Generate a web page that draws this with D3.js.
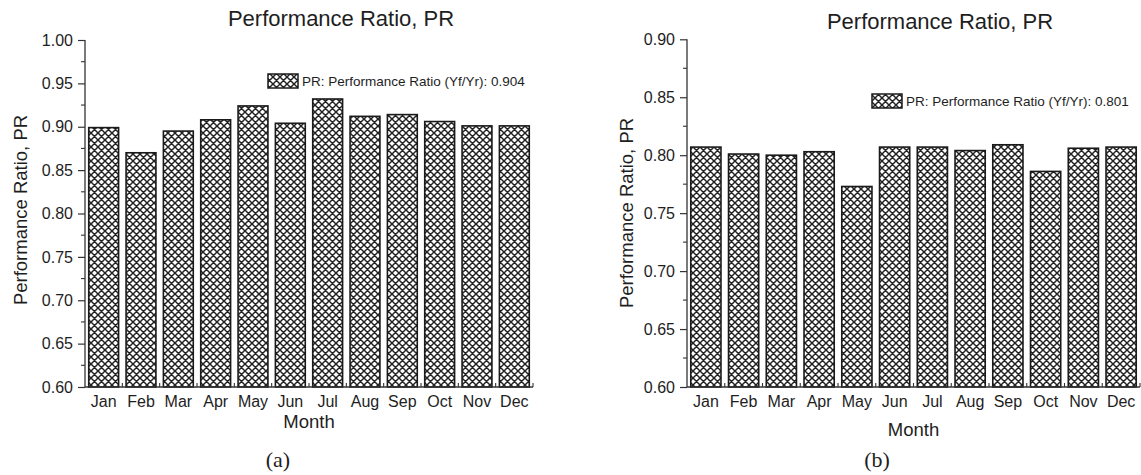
<!DOCTYPE html>
<html>
<head>
<meta charset="utf-8">
<script src="https://cdn.jsdelivr.net/npm/d3@7"></script>
<style>
  html, body { margin: 0; padding: 0; background: #fff; }
  svg { display: block; }
  text { font-family: "Liberation Sans", Arial, sans-serif; fill: #1e1e1e; }
</style>
</head>
<body>
<svg id="chart" width="1141" height="475"></svg>
<script>
const months = ["Jan","Feb","Mar","Apr","May","Jun","Jul","Aug","Sep","Oct","Nov","Dec"];
const prA = [0.899, 0.870, 0.895, 0.908, 0.924, 0.904, 0.932, 0.912, 0.914, 0.906, 0.901, 0.901];
const prB = [0.807, 0.801, 0.800, 0.803, 0.773, 0.807, 0.807, 0.804, 0.809, 0.786, 0.806, 0.807];
const yTicksA = [0.60, 0.65, 0.70, 0.75, 0.80, 0.85, 0.90, 0.95, 1.00];
const yTicksB = [0.60, 0.65, 0.70, 0.75, 0.80, 0.85, 0.90];
const titleText = "Performance Ratio, PR";
const yLabelText = "Performance Ratio, PR";
const xLabelText = "Month";
const legendA = "PR: Performance Ratio (Yf/Yr): 0.904";
const legendB = "PR: Performance Ratio (Yf/Yr): 0.801";

const svg = d3.select("#chart");
const ink = "#1a1a1a";

const defs = svg.append("defs");
const pat = defs.append("pattern")
  .attr("id", "xhatch").attr("patternUnits", "userSpaceOnUse")
  .attr("width", 7).attr("height", 7);
pat.append("rect").attr("width", 7).attr("height", 7).attr("fill", "#fff");
pat.append("path").attr("d", "M-1,-1 L8,8 M-1,8 L8,-1 M-1,6 L1,8 M6,-1 L8,1 M6,8 L8,6 M-1,1 L1,-1")
  .attr("stroke", "#222").attr("stroke-width", 1.45).attr("fill", "none");

function panel(cfg) {
  const g = svg.append("g");
  const x = d3.scaleBand().domain(months).range([cfg.x0, cfg.x1])
    .paddingInner(0.2).paddingOuter(0.1);
  const y = d3.scaleLinear().domain(cfg.domain).range([cfg.yb, cfg.yt]);

  // bars
  g.selectAll("rect.bar").data(cfg.values).join("rect")
    .attr("class", "bar")
    .attr("x", (d, i) => x(months[i]))
    .attr("width", x.bandwidth())
    .attr("y", d => y(d))
    .attr("height", d => y(cfg.domain[0]) - y(d))
    .attr("fill", "url(#xhatch)")
    .attr("stroke", ink).attr("stroke-width", 1.6);

  // y axis
  const yAxis = d3.axisLeft(y).tickValues(cfg.yticks).tickFormat(d3.format(".2f"))
    .tickSize(7).tickPadding(5);
  const ga = g.append("g").attr("transform", `translate(${cfg.x0},0)`).call(yAxis);
  ga.select(".domain").attr("stroke", "#333").attr("stroke-width", 1.3)
    .attr("d", `M0,${cfg.yb}V${cfg.yt}`);
  ga.selectAll(".tick line").attr("stroke", "#333").attr("stroke-width", 1.2);
  ga.selectAll(".tick text").style("font-size", "16px")
    .style("font-family", "Liberation Sans, Arial, sans-serif").attr("fill", "#1e1e1e");
  // minor ticks
  const minor = cfg.yticks.slice(0, -1).map((t, i) => (t + cfg.yticks[i + 1]) / 2);
  g.selectAll("line.minor").data(minor).join("line")
    .attr("x1", cfg.x0 - 4).attr("x2", cfg.x0)
    .attr("y1", d => y(d)).attr("y2", d => y(d))
    .attr("stroke", "#333").attr("stroke-width", 1.1);

  // x axis
  const xAxis = d3.axisBottom(x).tickSize(0).tickPadding(9);
  const gx = g.append("g").attr("transform", `translate(0,${cfg.yb})`).call(xAxis);
  gx.select(".domain").attr("stroke", "#333").attr("stroke-width", 1.3)
    .attr("d", `M${cfg.x0},0H${cfg.x1}`);
  gx.selectAll(".tick text").style("font-size", "16px")
    .style("font-family", "Liberation Sans, Arial, sans-serif").attr("fill", "#1e1e1e")
    .attr("dy", "0.71em");
  // boundary ticks (pointing up)
  const bounds = months.map((m, i) => cfg.x0 + (i + 1) * x.step());
  g.selectAll("line.bt").data(bounds).join("line")
    .attr("x1", d => d).attr("x2", d => d)
    .attr("y1", cfg.yb).attr("y2", cfg.yb - 4)
    .attr("stroke", "#333").attr("stroke-width", 1.1);

  // title
  g.append("text").attr("x", cfg.titleX).attr("y", cfg.titleY)
    .attr("text-anchor", "middle").style("font-size", "22px").text(titleText);
  // y label
  g.append("text")
    .attr("transform", `translate(${cfg.ylabX},${cfg.ylabY}) rotate(-90)`)
    .attr("text-anchor", "middle").attr("dy", "0.35em")
    .style("font-size", "18.5px").text(yLabelText);
  // x label
  g.append("text").attr("x", (cfg.x0 + cfg.x1) / 2).attr("y", cfg.xlabY)
    .attr("text-anchor", "middle").style("font-size", "18.5px").text(xLabelText);
  // panel letter
  g.append("text").attr("x", cfg.letterX).attr("y", cfg.letterY)
    .attr("text-anchor", "middle")
    .style("font-family", "Liberation Serif, 'Times New Roman', serif")
    .style("font-size", "22px").text(cfg.letter);

  // legend
  g.append("rect").attr("x", cfg.legX).attr("y", cfg.legY)
    .attr("width", 30).attr("height", 14)
    .attr("fill", "url(#xhatch)").attr("stroke", ink).attr("stroke-width", 1.5);
  g.append("text").attr("x", cfg.legX + 34).attr("y", cfg.legY + 7)
    .attr("dy", "0.35em").style("font-size", "13.5px").text(cfg.legend);
}

panel({
  x0: 85, x1: 533, yt: 40, yb: 387, domain: [0.6, 1.0],
  values: prA, yticks: yTicksA,
  titleX: 341, titleY: 26, ylabX: 21, ylabY: 210, xlabY: 428,
  letter: "(a)", letterX: 278, letterY: 467,
  legX: 268, legY: 74, legend: legendA
});
panel({
  x0: 687, x1: 1140, yt: 39.3, yb: 387, domain: [0.6, 0.9],
  values: prB, yticks: yTicksB,
  titleX: 940, titleY: 29, ylabX: 627, ylabY: 213, xlabY: 436,
  letter: "(b)", letterX: 877, letterY: 467,
  legX: 872, legY: 94, legend: legendB
});
</script>
</body>
</html>
